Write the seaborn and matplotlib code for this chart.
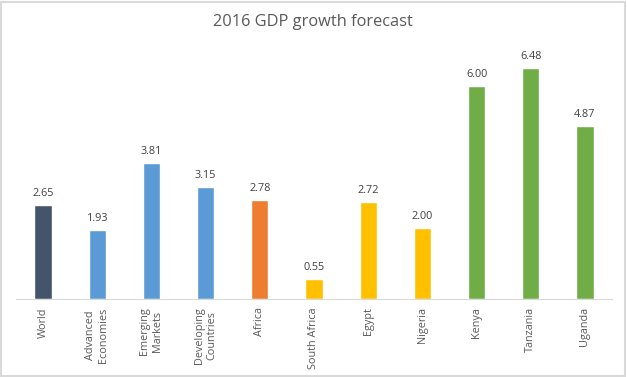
import matplotlib
matplotlib.use("Agg")
import matplotlib.pyplot as plt
import seaborn as sns
import pandas as pd
from matplotlib.patches import Rectangle

categories = ["World", "Advanced\nEconomies", "Emerging\nMarkets", "Developing\nCountries",
              "Africa", "South Africa", "Egypt", "Nigeria", "Kenya", "Tanzania", "Uganda"]
values = [2.65, 1.93, 3.81, 3.15, 2.78, 0.55, 2.72, 2.00, 6.00, 6.48, 4.87]
colors = ["#44546A", "#5B9BD5", "#5B9BD5", "#5B9BD5", "#ED7D31",
          "#FFC000", "#FFC000", "#FFC000", "#70AD47", "#70AD47", "#70AD47"]

df = pd.DataFrame({"cat": categories, "val": values})

sns.set_style("white")
plt.rcParams["font.family"] = ["Open Sans", "DejaVu Sans"]

fig = plt.figure(figsize=(6.27, 3.77), dpi=100)
ax = fig.add_axes([16/627, (377-299)/377, (612-16)/627, (299-50)/377])

sns.barplot(data=df, x="cat", y="val", hue="cat", palette=dict(zip(categories, colors)),
            width=0.32, legend=False, ax=ax, saturation=1)

ax.set_ylim(0, 7)
ax.set_xlim(-0.5, len(categories) - 0.5)
for i, v in enumerate(values):
    ax.text(i, v + 0.17, f"{v:.2f}", ha="center", va="bottom", fontsize=7.8, color="#404040")

ax.set_xlabel("")
ax.set_ylabel("")
ax.set_yticks([])
ax.tick_params(axis="x", length=0, pad=6, labelsize=7.8, labelcolor="#595959")
ax.set_xticks(range(len(categories)))
ax.set_xticklabels(categories, rotation=90, va="top", ha="center", linespacing=1.25)
for s in ["top", "right", "left"]:
    ax.spines[s].set_visible(False)
ax.spines["bottom"].set_color("#D9D9D9")
ax.spines["bottom"].set_linewidth(0.8)

fig.text(313/627, 1 - 22/377, "2016 GDP growth forecast", ha="center", va="center",
         fontsize=11.8, color="#595959")

fig.patches.append(Rectangle((0.002, 0.003), 0.995, 0.993, transform=fig.transFigure,
                             fill=False, edgecolor="#D9D9D9", linewidth=1.5))

fig.savefig("out.png", dpi=100)
